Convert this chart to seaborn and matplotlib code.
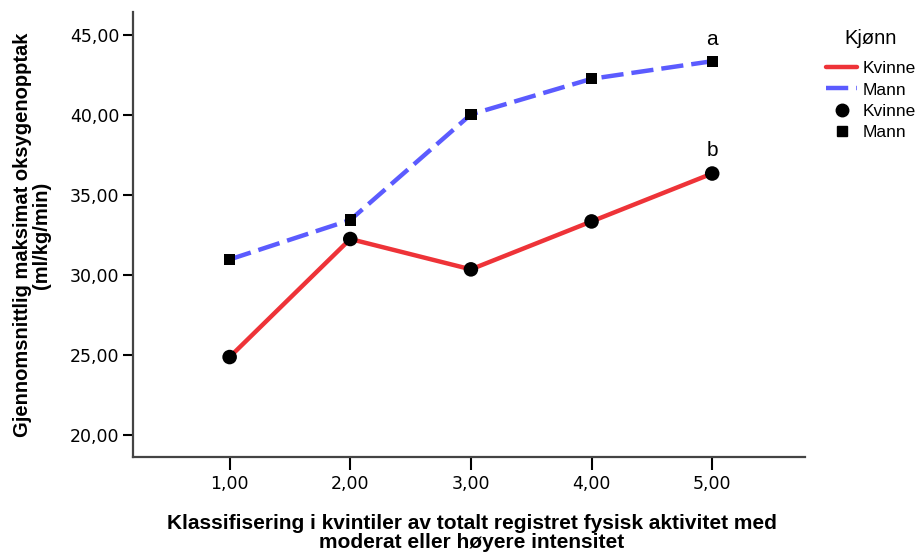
import matplotlib
matplotlib.use("Agg")
import matplotlib.pyplot as plt
import seaborn as sns
import pandas as pd
from matplotlib.lines import Line2D
from matplotlib.ticker import FuncFormatter

kvintil = [1, 2, 3, 4, 5]
kvinne = [24.86, 32.25, 30.35, 33.35, 36.35]
mann = [30.97, 33.44, 40.05, 42.28, 43.38]
yticks = [20, 25, 30, 35, 40, 45]
xticks = [1, 2, 3, 4, 5]

df = pd.DataFrame({
    "x": kvintil * 2,
    "y": kvinne + mann,
    "Kjønn": ["Kvinne"] * 5 + ["Mann"] * 5,
})

sns.set_style("white")
plt.rcParams["font.family"] = ["DejaVu Sans"]
plt.rcParams["text.color"] = "black"
plt.rcParams["xtick.color"] = "black"
plt.rcParams["ytick.color"] = "black"
plt.rcParams["axes.labelcolor"] = "black"

red = "#EE3338"
blue = "#5B5BFF"

fig = plt.figure(figsize=(9.18, 5.54), dpi=100)
ax = fig.add_axes([0.145, 0.175, 0.732, 0.803])

sns.lineplot(data=df, x="x", y="y", hue="Kjønn", style="Kjønn",
             palette={"Kvinne": red, "Mann": blue},
             dashes={"Kvinne": "", "Mann": (5, 1.8)},
             markers=False, linewidth=3.2, legend=False, ax=ax)
sns.scatterplot(data=df[df["Kjønn"] == "Kvinne"], x="x", y="y", color="black",
                marker="o", s=110, edgecolor="none", legend=False, ax=ax, zorder=5)
sns.scatterplot(data=df[df["Kjønn"] == "Mann"], x="x", y="y", color="black",
                marker="s", s=65, edgecolor="none", legend=False, ax=ax, zorder=5)

ax.set_xlim(0.2, 5.77)
ax.set_ylim(18.6, 46.45)
ax.set_xticks(xticks)
ax.set_yticks(yticks)
ax.xaxis.set_major_formatter(FuncFormatter(lambda v, p: f"{v:.2f}".replace(".", ",")))
ax.yaxis.set_major_formatter(FuncFormatter(lambda v, p: f"{v:.2f}".replace(".", ",")))
ax.tick_params(axis="both", which="major", direction="out", length=7, width=1.5,
               color="black", labelcolor="black", labelsize=12.5,
               left=True, bottom=True, pad=3)
ax.tick_params(axis="x", length=9, pad=4)
for s in ["top", "right"]:
    ax.spines[s].set_visible(False)
for s in ["left", "bottom"]:
    ax.spines[s].set_color("#444444")
    ax.spines[s].set_linewidth(1.6)

ax.set_xlabel("")
ax.set_ylabel("")
fig.text(0.035, 0.576, "Gjennomsnittlig maksimat oksygenopptak\n(ml/kg/min)",
         rotation=90, ha="center", va="center", fontsize=14.5, fontweight="bold",
         family="Liberation Sans", linespacing=1.0)
fig.text(0.514, 0.038, "Klassifisering i kvintiler av totalt registret fysisk aktivitet med\nmoderat eller høyere intensitet",
         ha="center", va="center", fontsize=15, fontweight="bold",
         family="Liberation Sans", linespacing=1.0)

ax.text(5, 44.75, "a", ha="center", va="center", fontsize=15, family="Liberation Sans")
ax.text(5, 37.8, "b", ha="center", va="center", fontsize=15, family="Liberation Sans")

fig.text(844 / 918, 1 - 39 / 554, "Kjønn", ha="left", va="center",
         fontsize=14.5, family="Liberation Sans")
handles = [
    Line2D([], [], color=red, lw=3.2),
    Line2D([], [], color=blue, lw=3.2, dashes=(5, 1.8)),
    Line2D([], [], color="black", marker="o", ls="", markersize=9),
    Line2D([], [], color="black", marker="s", ls="", markersize=7),
]
leg = fig.legend(handles, ["Kvinne", "Mann", "Kvinne", "Mann"],
                 loc="upper left", bbox_to_anchor=(826 / 918, 1 - 61 / 554), frameon=False,
                 prop={"family": "Liberation Sans", "size": 12.5},
                 handlelength=1.8, handletextpad=0.3, labelspacing=0.36,
                 borderaxespad=0, borderpad=0)

fig.savefig("out.png", dpi=100)
